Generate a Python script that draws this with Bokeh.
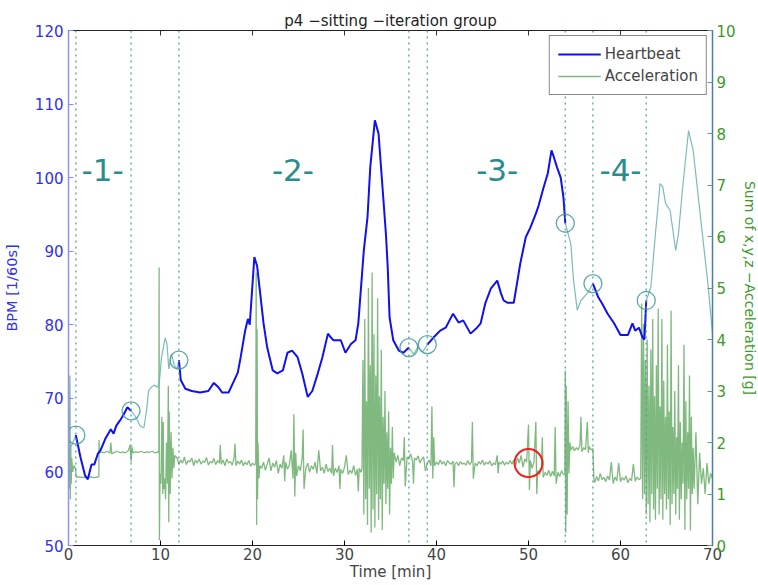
import numpy as np
from bokeh.plotting import figure
from bokeh.models import (Range1d, LinearAxis, Span, Legend, LegendItem,
                          FixedTicker, CustomJSTickFormatter)
from bokeh.core.properties import value
from bokeh.embed import file_html
from bokeh.resources import INLINE

# ---------------- data ----------------
hr_time = [0.0, 0.3, 0.8, 1.3, 1.8, 2.1, 2.5, 2.8, 3.2, 3.5, 4.0, 4.6, 4.9, 5.2, 5.6, 6.0, 6.4, 6.8,
           7.3, 7.8, 8.2, 8.5, 8.7, 9.0, 9.3, 9.7, 9.9, 10.1, 10.5, 10.7, 10.9, 11.2, 11.5, 11.8, 12.0,
           12.2, 12.7, 13.4, 14.3, 15.2, 15.8, 16.3, 16.7, 17.4, 18.0, 18.4, 18.7, 19.2, 19.5, 19.7,
           20.2, 20.5, 21.2, 21.6, 22.2, 22.7, 23.3, 23.8, 24.3, 24.9, 25.4, 26.0, 26.5, 27.1, 27.6,
           28.2, 28.5, 28.8, 29.6, 30.1, 30.7, 31.2, 31.5, 32.1, 32.5, 32.8, 33.3, 33.7, 34.1, 34.5,
           34.7, 34.9, 35.3, 35.9, 36.4, 37.0, 37.5, 38.0, 38.5, 39.0, 39.7, 40.4, 41.0, 41.5, 41.8,
           42.4, 42.9, 43.7, 44.4, 44.8, 45.3, 45.9, 46.6, 47.0, 47.3, 47.7, 48.4, 48.8, 49.1, 49.7,
           50.2, 50.8, 51.1, 51.6, 52.1, 52.5, 52.7, 53.1, 53.5, 53.8, 54.0, 54.6, 54.9, 55.3, 55.7,
           56.4, 57.0, 57.6, 58.0, 58.6, 59.3, 60.0, 60.8, 61.3, 61.6, 62.0, 62.4, 62.6, 62.8, 63.3,
           63.8, 64.3, 64.6, 64.9, 65.4, 66.0, 66.3, 66.8, 67.4, 67.9, 68.7, 69.5, 70.0]
hr_bpm = [62.5, 63.5, 65.0, 62.0, 59.5, 59.0, 61.0, 61.0, 62.5, 63.0, 64.5, 65.8, 65.2, 66.3, 67.0, 67.8, 68.8, 68.3,
          67.5, 66.2, 66.0, 68.5, 71.0, 71.5, 71.8, 71.5, 72.5, 75.5, 78.2, 77.5, 74.0, 76.0, 74.5, 74.0, 75.2,
          72.5, 71.3, 71.0, 70.8, 71.0, 72.1, 71.5, 70.8, 70.8, 72.4, 73.5, 75.5, 79.2, 80.8, 80.0,
          89.2, 88.0, 80.2, 76.9, 73.8, 73.4, 73.8, 76.2, 76.5, 75.6, 73.4, 70.2, 71.0, 73.4, 75.6,
          78.8, 78.3, 77.9, 77.9, 76.2, 77.4, 77.9, 80.2, 90.1, 94.6, 101.4, 107.8, 106.0, 99.2, 92.4,
          87.8, 81.0, 77.9, 76.5, 76.2, 76.9, 76.0, 77.0, 76.3, 77.3, 78.3, 79.2, 79.6, 80.8, 81.5,
          80.3, 80.6, 78.8, 79.6, 80.2, 82.9, 84.9, 86.0, 84.3, 83.3, 83.0, 83.0, 86.0, 88.3, 91.9,
          93.2, 95.1, 96.2, 98.5, 100.6, 103.7, 103.0, 101.4, 100.0, 97.3, 93.8, 91.0, 86.0, 82.0, 83.3,
          84.3, 85.6, 83.7, 82.9, 81.5, 80.2, 78.6, 78.6, 80.2, 79.2, 79.6, 78.3, 78.0, 83.3, 85.1,
          92.4, 99.2, 98.7, 96.5, 95.5, 90.1, 92.4, 99.2, 106.4, 103.7, 94.6, 85.6, 78.8]

acc_time = [
    0.0, 0.05, 0.1, 0.15, 0.2, 0.25, 0.3, 0.35, 0.45, 0.6, 0.75, 0.8, 0.85, 1.2, 1.6, 2.0, 2.4, 2.8, 3.2, 3.3, 3.32, 3.36,
    3.6, 3.9, 4.2, 4.5, 4.6, 4.7, 5.0, 5.3, 5.6, 5.9, 6.2, 6.5, 6.7, 6.8, 6.9, 7.0, 7.3, 7.6, 7.9, 8.2, 8.5, 8.8, 9.1, 9.4, 9.7,
    9.82, 9.85, 9.88, 9.95, 10.05, 10.15, 10.25, 10.3, 10.35, 10.45, 10.55, 10.65, 10.75, 10.85, 10.9, 10.95, 11.05, 11.15, 11.25, 11.35, 11.45, 11.55,
    11.8, 12.0, 12.2, 12.4, 12.6, 12.8, 13.0, 13.2, 13.4, 13.6, 13.8, 14.0, 14.2, 14.4, 14.6, 14.8, 15.0, 15.2, 15.4, 15.6, 15.8,
    16.0, 16.2, 16.4, 16.5, 16.6, 16.8, 17.0, 17.2, 17.4, 17.6, 17.8, 18.0, 18.1, 18.2, 18.4, 18.6, 18.8, 19.0, 19.2, 19.4, 19.6, 19.8, 20.0, 20.2,
    20.35, 20.4, 20.45, 20.5, 20.55, 20.6, 20.7, 20.8,
    21.0, 21.2, 21.4, 21.6, 21.8, 22.0, 22.2, 22.4, 22.6, 22.8, 23.0, 23.2, 23.4, 23.5, 23.6, 23.8, 24.0, 24.2, 24.4, 24.5, 24.6, 24.7, 24.8,
    25.0, 25.2, 25.4, 25.5, 25.6, 25.8, 26.0, 26.2, 26.4, 26.6, 26.8, 27.0, 27.2, 27.4, 27.6, 27.8, 28.0, 28.2, 28.4, 28.6, 28.7, 28.8,
    29.0, 29.2, 29.4, 29.5, 29.6, 29.8, 30.0, 30.2, 30.4, 30.6, 30.8, 31.0, 31.2, 31.4, 31.5, 31.6, 31.8,
    31.9, 32.0, 32.1, 32.2, 32.3, 32.4, 32.5, 32.6, 32.7, 32.8, 32.9, 33.0, 33.1, 33.2, 33.3, 33.4, 33.5, 33.6, 33.7, 33.8, 33.9,
    34.0, 34.1, 34.2, 34.3, 34.4, 34.5, 34.6, 34.7, 34.8, 34.9, 35.0, 35.1, 35.2, 35.3, 35.4,
    35.6, 35.8, 36.0, 36.2, 36.4, 36.5, 36.6, 36.8, 37.0, 37.2, 37.4, 37.5, 37.6, 37.8, 38.0, 38.2, 38.4, 38.6, 38.8, 39.0,
    39.2, 39.4, 39.5, 39.6, 39.7, 39.8, 40.0, 40.2, 40.4, 40.6, 40.8, 41.0, 41.2, 41.4, 41.6, 41.8, 41.9, 42.0, 42.2, 42.4,
    42.6, 42.8, 43.0, 43.2, 43.4, 43.6, 43.8, 43.9, 44.0, 44.2, 44.4, 44.6, 44.8, 45.0, 45.2, 45.4, 45.6, 45.8, 46.0, 46.2,
    46.4, 46.6, 46.7, 46.8, 47.0, 47.2, 47.4, 47.6, 47.8, 48.0,
    48.2, 48.4, 48.6, 48.8, 49.0, 49.2, 49.4, 49.6, 49.8, 50.0, 50.1, 50.2, 50.4, 50.6, 50.8, 50.9, 51.0, 51.2, 51.4, 51.5,
    51.6, 51.8, 52.0, 52.2, 52.4, 52.6, 52.8, 52.9, 53.0, 53.2, 53.4, 53.6, 53.8,
    53.95, 54.0, 54.05, 54.1, 54.2, 54.3, 54.4, 54.5, 54.6, 54.8, 55.0, 55.2, 55.4, 55.6, 55.7, 55.8, 56.0, 56.2, 56.4, 56.5,
    56.6, 56.8, 57.0, 57.1,
    57.2, 57.4, 57.6, 57.8, 58.0, 58.2, 58.4, 58.6, 58.8, 59.0, 59.2, 59.4, 59.6, 59.8, 60.0, 60.2, 60.4, 60.6, 60.8, 61.0,
    61.2, 61.4, 61.6, 61.8, 62.0,
    62.2, 62.3, 62.4, 62.5, 62.6, 62.7, 62.8, 62.9, 63.0, 63.1, 63.2, 63.3, 63.4, 63.5, 63.6, 63.7, 63.8, 63.9, 64.0, 64.1,
    64.2, 64.3, 64.4, 64.5, 64.6, 64.7, 64.8, 64.9, 65.0, 65.1, 65.2, 65.3, 65.4, 65.5, 65.6, 65.7, 65.8, 65.9, 66.0, 66.1,
    66.2, 66.3, 66.4, 66.5, 66.6, 66.7, 66.8, 66.9, 67.0, 67.1, 67.2, 67.3, 67.4, 67.5, 67.6, 67.7, 67.8, 67.9, 68.0, 68.2,
    68.4, 68.6, 68.8, 69.0, 69.2, 69.4, 69.6, 69.8, 70.0]
acc_g = [
    1.5, 2.7, 1.1, 3.3, 0.9, 1.9, 1.2, 1.7, 1.45, 1.55, 1.5, 1.4, 1.33, 1.33, 1.32, 1.33, 1.33, 1.32, 1.33, 1.34, 2.05, 1.8,
    1.82, 1.80, 1.83, 1.79, 2.0, 1.78, 1.81, 1.83, 1.80, 1.82, 1.80, 1.84, 1.95, 1.62, 1.92, 1.80, 1.82, 1.81, 1.83, 1.80, 1.82, 1.81, 1.83, 1.80, 1.82,
    1.8, 5.4, 0.1, 1.4, 1.2, 2.5, 1.0, 2.4, 1.1, 1.3, 0.9, 2.0, 1.2, 3.1, 0.45, 2.6, 1.0, 2.2, 1.3, 1.9, 1.5, 1.75,
    1.70, 1.58, 1.66, 1.60, 1.72, 1.57, 1.65, 1.62, 1.70, 1.55, 1.66, 1.60, 1.68, 1.58, 1.64, 1.61, 1.71, 1.56, 1.63, 1.60, 1.69,
    1.57, 1.65, 1.60, 1.95, 1.58, 1.66, 1.55, 1.68, 1.60, 1.63, 1.56, 1.70, 1.98, 1.55, 1.64, 1.58, 1.66, 1.55, 1.62, 1.57, 1.65, 1.54, 1.60, 1.56,
    1.6, 5.3, 0.4, 4.2, 0.9, 2.0, 1.3, 1.55,
    1.50, 1.62, 1.46, 1.58, 1.70, 1.45, 1.60, 1.52, 1.65, 1.40, 1.58, 1.50, 1.75, 1.25, 1.62, 1.48, 1.56, 1.85, 1.30, 2.55, 0.95, 1.80, 1.35,
    1.55, 1.45, 1.70, 2.25, 1.10, 1.50, 1.60, 1.42, 1.55, 1.48, 1.62, 1.40, 1.85, 1.45, 1.52, 1.40, 1.58, 1.44, 1.50, 1.40, 1.95, 1.35,
    1.50, 1.42, 1.55, 1.10, 1.48, 1.40, 1.52, 1.75, 1.38, 1.46, 1.40, 1.55, 1.36, 1.48, 1.05, 1.50, 1.42,
    1.5, 3.6, 0.6, 4.4, 0.9, 2.8, 0.4, 5.0, 1.1, 3.5, 0.25, 5.3, 0.7, 4.1, 0.35, 3.3, 1.0, 4.8, 0.5, 2.9, 0.9,
    3.8, 0.3, 2.5, 1.2, 3.0, 0.8, 2.2, 1.1, 2.6, 0.6, 1.9, 1.2, 2.3, 1.3, 1.8,
    1.62, 1.75, 1.55, 1.70, 1.65, 2.10, 1.15, 1.72, 1.68, 1.78, 1.62, 1.20, 1.70, 1.66, 1.74, 1.60, 1.68, 1.72, 1.45, 1.60,
    1.66, 1.55, 2.70, 1.30, 2.10, 1.55, 1.62, 1.57, 1.66, 1.58, 1.63, 1.55, 1.65, 1.60, 1.58, 1.64, 1.13, 1.58, 1.62, 1.55,
    1.63, 1.58, 1.60, 1.56, 1.65, 1.57, 1.62, 2.40, 1.30, 1.60, 1.55, 1.63, 1.58, 1.66, 1.56, 1.62, 1.58, 1.64, 1.55, 1.60,
    1.57, 1.75, 1.40, 1.62, 1.58, 1.64, 1.56, 1.62, 1.58, 1.65,
    1.58, 1.66, 1.55, 1.70, 1.60, 1.75, 1.52, 1.68, 1.62, 2.35, 1.08, 1.65, 1.50, 1.62, 2.40, 1.00, 1.45, 1.38, 1.48, 2.10,
    1.32, 1.42, 1.36, 1.46, 1.34, 1.44, 1.35, 2.30, 1.20, 1.42, 1.34, 1.45, 1.38,
    1.4, 3.4, 0.25, 3.1, 0.6, 2.8, 1.4, 2.0, 1.85, 1.92, 1.84, 1.90, 1.86, 1.95, 2.5, 1.82, 1.90, 1.86, 2.40, 1.80,
    1.92, 1.86, 1.88, 1.30,
    1.22, 1.34, 1.25, 1.40, 1.28, 1.32, 1.24, 1.35, 1.27, 1.62, 1.20, 1.33, 1.26, 1.60, 1.24, 1.32, 1.27, 1.35, 1.22, 1.30,
    1.26, 1.58, 1.25, 1.33, 1.28,
    1.3, 4.7, 0.9, 4.3, 1.0, 3.6, 0.6, 4.0, 0.8, 3.1, 0.45, 3.8, 1.0, 4.4, 0.7, 2.9, 0.5, 3.5, 1.1, 4.6,
    0.6, 2.7, 0.9, 4.4, 0.5, 3.2, 1.0, 2.5, 0.7, 3.9, 0.9, 2.6, 0.4, 4.56, 0.8, 2.3, 1.0, 3.0, 0.6, 2.1,
    1.1, 3.5, 0.5, 2.4, 0.9, 2.0, 1.2, 3.9, 0.3, 2.8, 0.9, 2.2, 1.1, 3.3, 0.29, 2.5, 1.0, 1.9, 1.1, 2.2,
    0.8, 1.8, 1.2, 1.5, 1.0, 1.6, 1.2, 1.4, 1.3]

# iteration windows (active heartbeat segments)
iteration_starts = [0.8, 12.0, 39.0, 57.0]
iteration_ends = [6.8, 37.0, 54.0, 62.8]
marker_times = [0.8, 6.8, 12.0, 37.0, 39.0, 54.0, 57.0, 62.8]
group_labels = ["-1-", "-2-", "-3-", "-4-"]
group_label_x = [3.7, 24.4, 46.6, 60.0]
group_label_y = [101.0, 101.0, 101.0, 101.0]
flag_time = [50.0]
flag_acc = [1.6]

x_ticks = [0, 10, 20, 30, 40, 50, 60, 70]
bpm_ticks = [50, 60, 70, 80, 90, 100, 110, 120]
acc_ticks = [0, 1, 2, 3, 4, 5, 6, 7, 8, 9, 10]

# ---------------- figure ----------------
FONT = "DejaVu Sans"
p = figure(frame_width=644, frame_height=515, output_backend="svg", toolbar_location=None,
           x_range=Range1d(0, 70), y_range=Range1d(50, 120),
           min_border_left=68, min_border_right=40, min_border_top=30, min_border_bottom=36)
p.extra_y_ranges = {"acc": Range1d(0, 10)}
p.xgrid.visible = False
p.ygrid.visible = False
p.outline_line_color = "#222222"
p.outline_line_width = 1

p.title.text = "p4 \u2212sitting \u2212iteration group"
p.title.align = "center"
p.title.text_font = FONT
p.title.text_font_size = "15px"
p.title.text_font_style = "normal"
p.title.text_color = "#222222"
p.title.standoff = 2

# bottom axis
xa = p.xaxis[0]
xa.ticker = FixedTicker(ticks=x_ticks)
xa.axis_label = "Time [min]"
xa.axis_label_text_font = FONT
xa.axis_label_text_font_size = "15px"
xa.axis_label_text_font_style = "normal"
xa.axis_label_standoff = 0
xa.major_label_text_font = FONT
xa.major_label_text_font_size = "15px"
xa.major_label_standoff = 2
xa.major_tick_in = 5
xa.major_tick_out = 0
xa.minor_tick_line_color = None
xa.axis_line_color = "#222222"

# top ticks (no labels)
ta = LinearAxis(ticker=FixedTicker(ticks=x_ticks),
                formatter=CustomJSTickFormatter(code="return ''"))
ta.major_tick_in = 5
ta.major_tick_out = 0
ta.major_tick_line_color = "#333333"
ta.minor_tick_line_color = None
ta.axis_line_color = None
ta.major_label_standoff = 0
ta.major_label_text_font_size = "2px"
p.add_layout(ta, "above")

# left axis
ya = p.yaxis[0]
ya.ticker = FixedTicker(ticks=bpm_ticks)
ya.axis_label = "BPM [1/60s]"
ya.axis_label_text_font = FONT
ya.axis_label_text_font_size = "14.5px"
ya.axis_label_text_font_style = "normal"
ya.axis_label_text_color = "#3030f0"
ya.axis_label_standoff = 12
ya.major_label_text_font = FONT
ya.major_label_text_font_size = "15px"
ya.major_label_text_color = "#3030f0"
ya.major_label_standoff = 5
ya.major_tick_in = 5
ya.major_tick_out = 0
ya.major_tick_line_color = "#8a8aff"
ya.minor_tick_line_color = None
ya.axis_line_color = "#8f8fff"
ya.axis_line_width = 1.5

# right axis
ra = LinearAxis(y_range_name="acc", ticker=FixedTicker(ticks=acc_ticks))
ra.axis_label = "Sum of x,y,z \u2212Acceleration [g]"
ra.axis_label_text_font = FONT
ra.axis_label_text_font_size = "14px"
ra.axis_label_text_font_style = "normal"
ra.axis_label_text_color = "#3a9a2a"
ra.axis_label_standoff = 3
ra.major_label_text_font = FONT
ra.major_label_text_font_size = "15px"
ra.major_label_text_color = "#3a9a2a"
ra.major_label_standoff = 4
ra.major_tick_in = 5
ra.major_tick_out = 0
ra.major_tick_line_color = "#6a9a6a"
ra.minor_tick_line_color = None
ra.axis_line_color = "#4a7bb0"
ra.axis_line_width = 1.5
p.add_layout(ra, "right")

# ---------------- marks ----------------
hr_t = np.array(hr_time)
hr_v = np.array(hr_bpm)

def segment(a, b):
    m = (hr_t >= a - 1e-9) & (hr_t <= b + 1e-9)
    return list(hr_t[m]), list(hr_v[m])

active_xs, active_ys = [], []
for a, b in zip(iteration_starts, iteration_ends):
    sx, sy = segment(a, b)
    active_xs.append(sx)
    active_ys.append(sy)

bounds = [hr_time[0]] + sorted(iteration_starts + iteration_ends) + [hr_time[-1]]
inactive_xs, inactive_ys = [], []
for i in range(0, len(bounds), 2):
    sx, sy = segment(bounds[i], bounds[i + 1])
    if len(sx) > 1:
        inactive_xs.append(sx)
        inactive_ys.append(sy)

# vertical dotted markers
for t in marker_times:
    p.add_layout(Span(location=t, dimension="height", line_color="#4f9e9e",
                      line_alpha=0.85, line_width=1.5, line_dash="2 4"))

acc_r = p.line(acc_time, acc_g, y_range_name="acc", line_color="#2a8a2a",
               line_alpha=0.6, line_width=1.3)

p.multi_line(inactive_xs, inactive_ys, line_color="#6fb3b3", line_alpha=0.9, line_width=1.2)
hb_r = p.multi_line(active_xs, active_ys, line_color="#1010f0", line_width=2)

marker_bpm = list(np.interp(marker_times, hr_t, hr_v))
p.scatter(marker_times, marker_bpm, marker="circle", size=18, fill_color=None,
          line_color="#3f9a9a", line_alpha=0.85, line_width=1.3)

p.scatter(flag_time, flag_acc, y_range_name="acc", marker="circle", size=28,
          fill_color=None, line_color="#ee2020", line_width=2)

p.text(group_label_x, group_label_y, text=group_labels, text_font=value(FONT),
       text_font_size="31px", text_color="#2a8c8c", text_align="center",
       text_baseline="middle")

legend = Legend(items=[LegendItem(label="Heartbeat", renderers=[hb_r]),
                       LegendItem(label="Acceleration", renderers=[acc_r])],
                location="top_right")
legend.border_line_color = "#111111"
legend.border_line_width = 1.2
legend.label_text_font = FONT
legend.label_text_font_size = "15px"
legend.glyph_width = 43
legend.glyph_height = 20
legend.spacing = 2
legend.padding = 8
legend.margin = 5
legend.label_standoff = 4
legend.background_fill_alpha = 1
p.add_layout(legend)

open("out.html", "w").write(file_html(p, INLINE))
